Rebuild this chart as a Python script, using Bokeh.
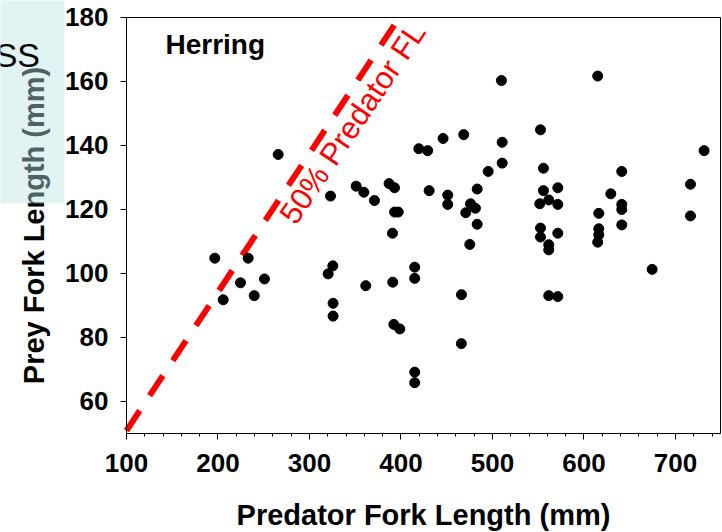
from bokeh.plotting import figure
from bokeh.models import FixedTicker, Label, BoxAnnotation, Range1d, LinearAxis
from bokeh.embed import file_html
from bokeh.resources import INLINE

# Predator and prey fork lengths (mm) for herring found in stomachs
pred_fl = [196.5, 205.7, 224.6, 233.0, 239.6, 250.8, 265.8, 323.0, 320.4, 325.5,
           325.8, 325.8, 351.0, 359.4, 361.5, 371.0, 387.0, 392.9, 393.0, 397.0,
           390.7, 391.0, 392.2, 398.7, 415.0, 415.0, 415.0, 415.0, 419.5, 429.2,
           430.8, 446.0, 451.1, 451.1, 468.6, 470.8, 476.0, 481.4, 483.3, 483.3,
           475.2, 466.1, 466.0, 495.3, 509.8, 510.6, 510.6, 552.5, 555.7, 555.7,
           551.7, 561.5, 552.5, 552.5, 561.5, 561.5, 561.5, 571.4, 571.4, 571.4,
           571.4, 615.0, 616.2, 616.2, 616.2, 615.0, 629.3, 641.3, 641.3, 641.3,
           641.3, 674.5, 716.4, 716.4, 731.3]
prey_fl = [104.7, 91.7, 97.0, 104.7, 93.0, 98.2, 137.1, 124.1, 99.8, 102.3,
           90.6, 86.6, 127.2, 125.3, 96.1, 122.7, 128.0, 126.7, 119.1, 119.1,
           112.5, 97.2, 84.0, 82.6, 101.9, 98.4, 69.1, 65.8, 138.9, 138.3,
           125.8, 142.1, 124.4, 121.5, 143.3, 118.9, 121.7, 120.3, 126.3, 115.3,
           109.0, 93.3, 78.0, 131.8, 160.2, 140.9, 134.4, 144.8, 132.8, 125.8,
           121.7, 122.9, 114.1, 111.3, 108.9, 107.3, 93.0, 126.7, 121.5, 112.5,
           92.7, 161.6, 118.7, 113.9, 112.0, 109.7, 124.8, 131.8, 121.5, 119.9,
           115.1, 101.2, 127.8, 117.9, 138.3]

# Reference line labelled "50% Predator FL"
ref_x = [100, 398.4]
ref_y = [50.8, 180.0]

x_ticks = [100, 200, 300, 400, 500, 600, 700]
x_minor = list(range(100, 760, 20))
y_ticks = [60, 80, 100, 120, 140, 160, 180]

X_LIM = (100, 749)
Y_LIM = (50, 180)

FONT = "Liberation Sans"

# The frame fills the whole canvas; axes sit at fixed data positions so the
# corner panel and its text can be drawn outside the axis box.
p = figure(width=722, height=532, output_backend="svg", toolbar_location=None,
           x_range=Range1d(-37.7, 751.4), y_range=Range1d(19.0, 185.2),
           min_border_left=0, min_border_right=0, min_border_top=0,
           min_border_bottom=0)
p.background_fill_color = "white"
p.border_fill_color = "white"
p.outline_line_color = None
p.xgrid.visible = False
p.ygrid.visible = False

xa = p.xaxis[0]
ya = p.yaxis[0]
xa.fixed_location = Y_LIM[0]
ya.fixed_location = X_LIM[0]
xa.bounds = X_LIM
ya.bounds = Y_LIM
xa.ticker = FixedTicker(ticks=x_ticks, minor_ticks=x_minor)
ya.ticker = FixedTicker(ticks=y_ticks, minor_ticks=[])
for ax in (xa, ya):
    ax.axis_line_color = "black"
    ax.major_tick_line_color = "black"
    ax.major_tick_in = 0
    ax.major_tick_out = 6
    ax.minor_tick_in = 0
    ax.minor_tick_out = 3
    ax.major_label_text_font = FONT
    ax.major_label_text_font_style = "bold"
    ax.major_label_text_font_size = "26px"
    ax.major_label_text_color = "black"
    ax.axis_label_text_font = FONT
    ax.axis_label_text_font_style = "bold"
    ax.axis_label_text_font_size = "29px"
    ax.axis_label_text_color = "black"

xa.axis_label = "Predator Fork Length (mm)"
ya.axis_label = "Prey Fork Length (mm)"
xa.major_label_standoff = 15
xa.axis_label_standoff = 23
ya.major_label_standoff = 12
ya.axis_label_standoff = 12
ya.minor_tick_line_color = None

# Top and right edges of the axis box
top_edge = LinearAxis(fixed_location=Y_LIM[1], bounds=X_LIM,
                      ticker=FixedTicker(ticks=[], minor_ticks=[]),
                      major_label_text_alpha=0, axis_line_color="black")
right_edge = LinearAxis(fixed_location=X_LIM[1], bounds=Y_LIM,
                        ticker=FixedTicker(ticks=[], minor_ticks=[]),
                        major_label_text_alpha=0, axis_line_color="black")
p.add_layout(top_edge, "above")
p.add_layout(right_edge, "right")

p.line(ref_x, ref_y, line_color="red", line_width=6, line_dash="24 18")
p.scatter(pred_fl, prey_fl, size=10, color="black")

p.add_layout(Label(x=275.6, y=116.5, text="50% Predator FL", angle=0.977,
                   text_color="red", text_font=FONT, text_font_size="31px",
                   text_baseline="alphabetic", text_align="left"))
p.add_layout(Label(x=142.6, y=171.5, text="Herring", text_font=FONT,
                   text_font_style="bold", text_font_size="28px",
                   text_baseline="alphabetic", text_color="black"))

# Tinted panel in the upper-left corner, over the axis title
p.add_layout(BoxAnnotation(left=-40, right=32.2, top=190, bottom=121.8,
                           fill_color=(186, 228, 228), fill_alpha=0.43,
                           line_alpha=0))
p.add_layout(Label(x=5.5, y=168.3, text="SS", text_font=FONT,
                   text_font_size="34px", text_align="right",
                   text_baseline="alphabetic", text_color="black"))

open("out.html", "w").write(file_html(p, INLINE))
